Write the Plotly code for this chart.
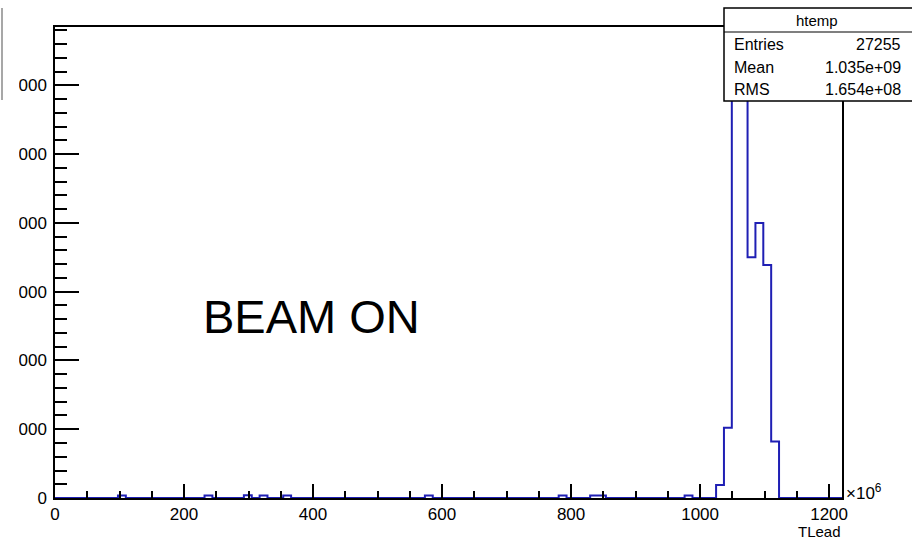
import plotly.graph_objects as go

# ---- data ----
x_min = 0.0          # TLead, units of 1e6
x_max = 1220.0
n_bins = 100
# non-zero bins: bin index -> entries
filled_bins = [8, 19, 24, 26, 29, 47, 64, 68, 69, 80, 84, 85, 86, 87, 88, 89, 90, 91]
filled_counts = [35, 35, 40, 35, 35, 35, 35, 35, 35, 35, 190, 1020, 7000, 6800, 3500, 4000, 3390, 820]
y_ticks = [0, 1000, 2000, 3000, 4000, 5000, 6000]
x_ticks = [0, 200, 400, 600, 800, 1000, 1200]
stats_labels = ["Entries", "Mean", "RMS"]
stats_values = ["27255", "1.035e+09", "1.654e+08"]
hist_name = "htemp"

# ---- build histogram step outline ----
width = (x_max - x_min) / n_bins
counts = [0] * n_bins
for b, c in zip(filled_bins, filled_counts):
    counts[b] = c
xs, ys = [x_min], [0]
for i, c in enumerate(counts):
    lo = x_min + i * width
    hi = lo + width
    xs += [lo, hi]
    ys += [c, c]
xs.append(x_max)
ys.append(0)

W, H = 912, 540
L, R, T, B = 55, 842, 27, 498
FONT = "Liberation Sans, Arial, Helvetica, sans-serif"
BLUE = "#1f1fb4"

def px(xp):
    return (xp - L) / (R - L)

def py(yp):
    return (B - yp) / (B - T)

fig = go.Figure()
fig.add_trace(go.Scatter(x=xs, y=ys, mode="lines",
                         line=dict(color=BLUE, width=2), hoverinfo="skip",
                         showlegend=False))

fig.update_layout(
    width=W, height=H,
    margin=dict(l=L, r=W - R, t=T, b=H - B, pad=0),
    paper_bgcolor="white", plot_bgcolor="white",
    font=dict(family=FONT, color="black", size=17),
    showlegend=False,
    xaxis=dict(range=[x_min, x_max], tickvals=x_ticks, ticks="inside", ticklen=14,
               tickwidth=1.5, tickcolor="black", showgrid=False, zeroline=False,
               showline=True, linecolor="black", linewidth=1.5, mirror=True,
               tickfont=dict(size=17, family=FONT), ticklabelstandoff=0,
               minor=dict(dtick=50, ticks="inside", ticklen=7, tickcolor="black", tickwidth=1.5),
               automargin=False, fixedrange=True),
    yaxis=dict(range=[0, 6850], tickvals=y_ticks, ticks="inside", ticklen=24,
               tickwidth=1.5, tickcolor="black", showgrid=False, zeroline=False,
               showline=True, linecolor="black", linewidth=1.5, mirror=True,
               tickfont=dict(size=17, family=FONT), ticklabelstandoff=3,
               minor=dict(dtick=200, ticks="inside", ticklen=12, tickcolor="black", tickwidth=1.5),
               automargin=False, fixedrange=True),
)

shapes = []
# white strip on the left edge (picture is cut there)
shapes.append(dict(type="rect", xref="paper", yref="paper", x0=px(-5), x1=px(19),
                   y0=py(540), y1=py(0), fillcolor="white", line=dict(width=0), layer="above"))
shapes.append(dict(type="line", xref="paper", yref="paper", x0=px(2), x1=px(2),
                   y0=py(8), y1=py(100), line=dict(color="#8a8a8a", width=1.5), layer="above"))
# stats box
shapes.append(dict(type="rect", xref="paper", yref="paper", x0=px(724), x1=px(920),
                   y0=py(101), y1=py(8), fillcolor="white",
                   line=dict(color="black", width=1.5), layer="above"))
shapes.append(dict(type="line", xref="paper", yref="paper", x0=px(724), x1=px(920),
                   y0=py(32), y1=py(32), line=dict(color="black", width=1.2), layer="above"))
fig.update_layout(shapes=shapes)

ann = []
ann.append(dict(text=hist_name, xref="paper", yref="paper", x=px(817), y=py(20),
                xanchor="center", yanchor="middle", showarrow=False, font=dict(size=15)))
for i, (lab, val) in enumerate(zip(stats_labels, stats_values)):
    yy = py(44 + i * 23)
    ann.append(dict(text=lab, xref="paper", yref="paper", x=px(732), y=yy,
                    xanchor="left", yanchor="middle", showarrow=False, font=dict(size=16)))
    ann.append(dict(text=val, xref="paper", yref="paper", x=px(903), y=yy,
                    xanchor="right", yanchor="middle", showarrow=False, font=dict(size=16)))
ann.append(dict(text="×10<sup>6</sup>", xref="paper", yref="paper", x=px(844), y=py(492),
                xanchor="left", yanchor="middle", showarrow=False, font=dict(size=17)))
ann.append(dict(text="TLead", xref="paper", yref="paper", x=px(843), y=py(531),
                xanchor="right", yanchor="middle", showarrow=False, font=dict(size=15)))
ann.append(dict(text="BEAM ON", xref="paper", yref="paper", x=px(311), y=py(316),
                xanchor="center", yanchor="middle", showarrow=False, font=dict(size=47)))
fig.update_layout(annotations=ann)

fig.write_html("out.html")
